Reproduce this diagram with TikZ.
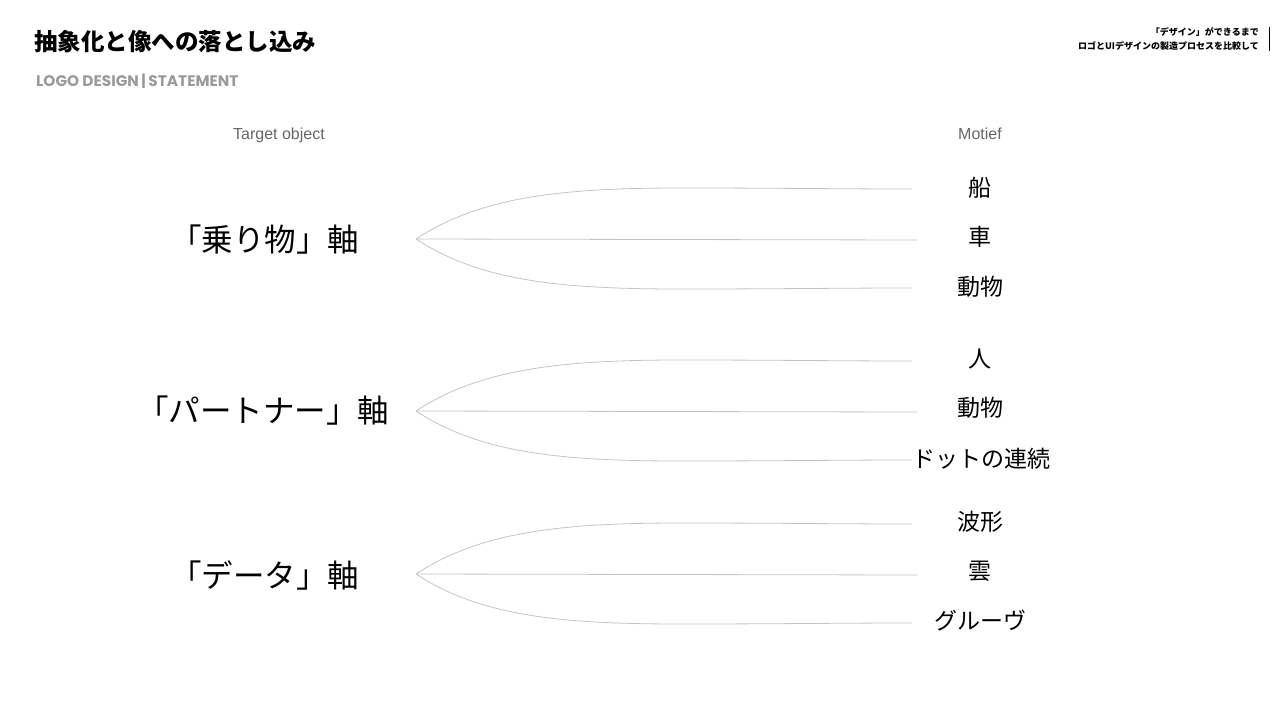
\documentclass[tikz,border=0pt]{standalone}
\usepackage{fontspec}
\setmainfont{Liberation Sans}
\newfontfamily\jp{Noto Sans CJK JP}
\newfontfamily\pop{Poppins}
\definecolor{linegray}{HTML}{C4C4C4}
\definecolor{subgray}{HTML}{9A9A9A}
\definecolor{labgray}{HTML}{666666}
\tikzset{
  branch/.style={draw=linegray, line width=0.8pt},
  axislabel/.style={font=\jp\fontsize{31.5}{36}\selectfont, text=black, inner sep=0pt},
  motif/.style={font=\jp\fontsize{23}{28}\selectfont, text=black, inner sep=0pt},
  colhead/.style={font=\fontsize{16}{19}\selectfont, text=labgray, inner sep=0pt},
}
\begin{document}
\begin{tikzpicture}[x=1pt,y=-1pt]
\useasboundingbox (0,0) rectangle (1280,720);
% header
\node[anchor=west, inner sep=0pt, font=\jp\bfseries\fontsize{23.5}{28}\selectfont] (title) at (34,42) {抽象化と像への落とし込み};
\node[anchor=west, inner sep=0pt, font=\pop\bfseries\fontsize{15.3}{18}\selectfont, text=subgray] (sub) at (36,81) {LOGO DESIGN\,|\,STATEMENT};
\node[anchor=east, inner sep=0pt, align=right, font=\jp\bfseries\fontsize{9}{14}\selectfont] (corner) at (1259,39) {「デザイン」ができるまで\\ロゴとUIデザインの製造プロセスを比較して};
\coordinate (vt) at (1269,27);
\coordinate (vb) at (1269,51);
\draw[black, line width=0.8pt] (vt) -- (vb);
% column heads
\node[colhead, anchor=base] (th) at (279,139) {Target object};
\node[colhead, anchor=base] (mh) at (980,139) {Motief};
% axis labels
\node[axislabel] (ax1) at (264.5,240) {「乗り物」軸};
\node[axislabel] (ax2) at (263,411) {「パートナー」軸};
\node[axislabel] (ax3) at (264.5,575) {「データ」軸};
% motif labels
\node[motif] (m11) at (980,188) {船};
\node[motif] (m12) at (980,237) {車};
\node[motif] (m13) at (980,287) {動物};
\node[motif] (m21) at (980,359) {人};
\node[motif] (m22) at (980,408) {動物};
\node[motif] (m23) at (981,459) {ドットの連続};
\node[motif] (m31) at (980,522) {波形};
\node[motif] (m32) at (980,571) {雲};
\node[motif] (m33) at (980,621) {グルーヴ};
% origins and ends
\foreach \i/\y in {1/239,2/411,3/574}{
  \coordinate (o\i) at (416,\y);
  \coordinate (t\i) at (912,\y-50);
  \coordinate (c\i) at (917,\y+1);
  \coordinate (b\i) at (912,\y+49);
  \draw[branch] (o\i) .. controls (480,\y-42) and (560,\y-51) .. (680,\y-51) .. controls (780,\y-51) and (840,\y-50) .. (t\i);
  \draw[branch] (o\i) -- (c\i);
  \draw[branch] (o\i) .. controls (480,\y+42) and (560,\y+50) .. (680,\y+50) .. controls (780,\y+50) and (840,\y+49) .. (b\i);
}
\end{tikzpicture}
\end{document}
